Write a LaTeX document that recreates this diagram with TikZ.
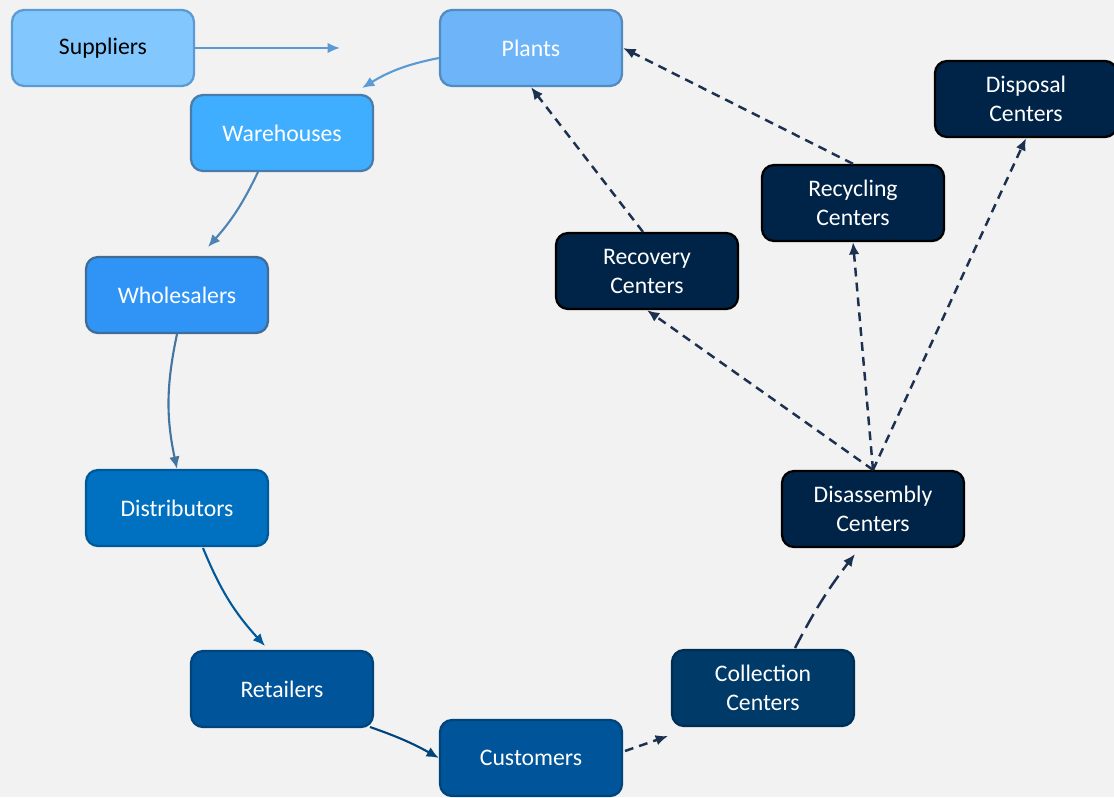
\documentclass[tikz,border=0pt]{standalone}
\usepackage{fontspec}
\setmainfont{Carlito}
\usetikzlibrary{arrows.meta}
\definecolor{bgc}{HTML}{F2F2F2}
\definecolor{csup}{HTML}{82C8FE}
\definecolor{cpla}{HTML}{6DB5F8}
\definecolor{cwar}{HTML}{40AEFF}
\definecolor{cwho}{HTML}{2F94F6}
\definecolor{cdis}{HTML}{0070C0}
\definecolor{cret}{HTML}{00559A}
\definecolor{ccol}{HTML}{003A68}
\definecolor{cnavy}{HTML}{002448}
\definecolor{clink}{HTML}{5B9BD5}
\definecolor{cdash}{HTML}{1C3050}
\begin{document}
\begin{tikzpicture}
    [
        x=0.02cm,y=-0.02cm,
        font=\fontsize{13.5}{16.5}\selectfont,
        box/.style={rounded corners=0.24cm,minimum width=3.64cm,minimum height=1.52cm,
            align=center,line width=1.3pt,text=white},
        flow/.style={line width=1.2pt,-{Latex[length=7pt,width=6pt]}},
        back/.style={line width=1.4pt,cdash,dash pattern=on 5pt off 3.5pt,-{Latex[length=7pt,width=6pt]}},
    ]
    \fill[bgc] (0,0) rectangle (1114,797);
    \useasboundingbox (0,0) rectangle (1114,797);
    % The forward chain
    \node[box,fill=csup,draw=clink,text=black] (sup) at (103,48) {Suppliers};
    \node[box,fill=cpla,draw=clink!90!black] (pla) at (531,48) {Plants};
    \node[box,fill=cwar,draw=clink!80!black] (war) at (282,133) {Warehouses};
    \node[box,fill=cwho,draw=clink!70!black] (who) at (177,295) {Wholesalers};
    \node[box,fill=cdis,draw=cdis!80!black] (dis) at (177,508) {Distributors};
    \node[box,fill=cret,draw=cret!80!black] (ret) at (282,689) {Retailers};
    \node[box,fill=cret,draw=cret!80!black] (cus) at (531,758) {Customers};
    % The reverse chain
    \node[box,fill=ccol,draw=ccol!80!black] (col) at (763,688) {Collection\\Centers};
    \node[box,fill=cnavy,draw=black] (dsa) at (873,509) {Disassembly\\Centers};
    \node[box,fill=cnavy,draw=black] (rco) at (647,271) {Recovery\\Centers};
    \node[box,fill=cnavy,draw=black] (rcy) at (853,203) {Recycling\\Centers};
    \node[box,fill=cnavy,draw=black] (dsp) at (1026,99) {Disposal\\Centers};
    \coordinate (supend) at (340,48);

    % Forward links
    \draw[flow,clink] (sup) -- (supend);
    \draw[flow,clink] (pla.west|-0,58) to[bend right=10] (362,88);
    \draw[flow,clink!85!black] (258,172) to[bend left=8] (208,247);
    \draw[flow,clink!75!black] (who.south) to[bend right=12] (dis.north);
    \draw[flow,cdis!80!black] (203,548) to[bend right=10] (265,646);
    \draw[flow,cret!80!black] (370,727) to[bend left=5] (cus.west);
    % Reverse links
    \draw[back] (625,751) -- (668,736);
    \draw[back,dash pattern=on 9pt off 4pt] (795,648) to[bend left=5] (855,554);
    \draw[back] (dsa.north) -- (rco.south);
    \draw[back] (dsa.north) -- (rcy.south);
    \draw[back] (dsa.north) -- (dsp.south);
    \draw[back] (643,232) -- (pla.south);
    \draw[back] (rcy.north) -- (pla.east);
\end{tikzpicture}
\end{document}
